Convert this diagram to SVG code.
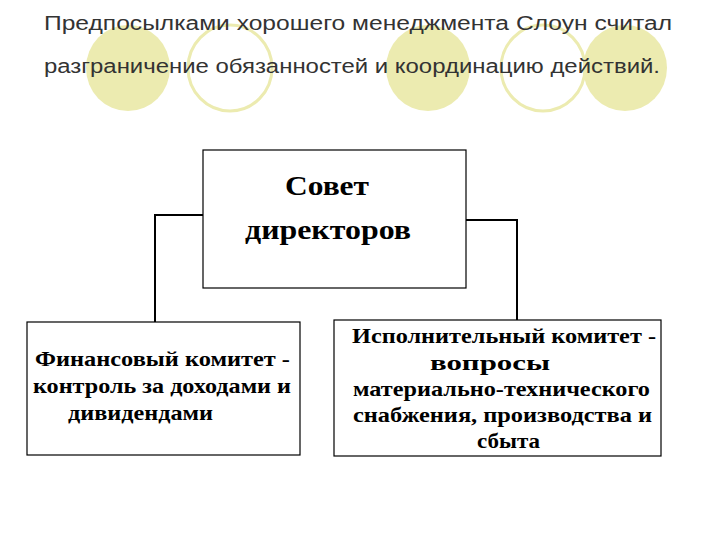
<svg xmlns="http://www.w3.org/2000/svg" width="720" height="540" viewBox="0 0 720 540">
<style>
.f{fill:#ecebb0}.o{fill:none;stroke:#ecebb0;stroke-width:3}
.t{font-family:"Liberation Sans",Arial,sans-serif;font-size:20px;fill:#333}
.b{fill:#fff;stroke:#000;stroke-width:1.2}
.s{font-family:"Liberation Serif","Times New Roman",serif;font-weight:bold;font-size:21px;fill:#000}
.c{fill:none;stroke:#000;stroke-width:2}
</style>
<rect width="720" height="540" fill="#fff"/>
<g id="deco">
<ellipse class="f" cx="128" cy="68" rx="42" ry="43"/>
<ellipse class="o" cx="230" cy="68" rx="42" ry="43"/>
<ellipse class="f" cx="428" cy="68" rx="42" ry="43"/>
<ellipse class="o" cx="543" cy="68" rx="42" ry="43"/>
<ellipse class="f" cx="625" cy="68" rx="42" ry="43"/>
</g>
<text class="t" x="44" y="30" textLength="628" lengthAdjust="spacingAndGlyphs">Предпосылками  хорошего менеджмента Слоун  считал</text>
<text class="t" x="44" y="73" textLength="616" lengthAdjust="spacingAndGlyphs">разграничение обязанностей и координацию действий.</text>
<g id="connectors">
<polyline class="c" points="203,215 155,215 155,322"/>
<polyline class="c" points="466,220 517,220 517,320"/>
</g>
<g id="board">
<rect class="b" x="203" y="150" width="263" height="138"/>
<text class="s" style="font-size:28px" x="285" y="195" textLength="84" lengthAdjust="spacingAndGlyphs">Совет</text>
<text class="s" style="font-size:28px" x="245" y="239" textLength="166" lengthAdjust="spacingAndGlyphs">директоров</text>
</g>
<g id="finance">
<rect class="b" x="27" y="322" width="273" height="133"/>
<text class="s" x="35" y="366" textLength="255" lengthAdjust="spacingAndGlyphs">Финансовый комитет -</text>
<text class="s" x="33" y="393" textLength="258" lengthAdjust="spacingAndGlyphs">контроль за доходами и</text>
<text class="s" x="68" y="420" textLength="145" lengthAdjust="spacingAndGlyphs">дивидендами</text>
</g>
<g id="exec">
<rect class="b" x="334" y="320" width="327" height="136"/>
<text class="s" x="352" y="343" textLength="304" lengthAdjust="spacingAndGlyphs">Исполнительный комитет -</text>
<text class="s" x="430" y="370" textLength="120" lengthAdjust="spacingAndGlyphs">вопросы</text>
<text class="s" x="353" y="396" textLength="297" lengthAdjust="spacingAndGlyphs">материально-технического</text>
<text class="s" x="353" y="422" textLength="299" lengthAdjust="spacingAndGlyphs">снабжения, производства и</text>
<text class="s" x="477" y="448" textLength="63" lengthAdjust="spacingAndGlyphs">сбыта</text>
</g>
</svg>
